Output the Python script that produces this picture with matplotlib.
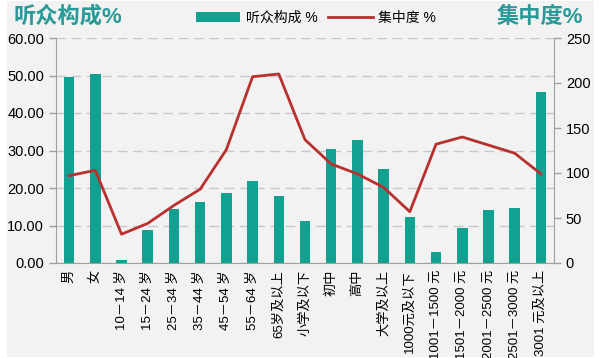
import matplotlib.pyplot as plt
from matplotlib.patches import Rectangle
import numpy as np

plt.rcParams['font.family'] = ['Liberation Sans', 'Noto Sans CJK SC', 'DejaVu Sans']

# ---------- data ----------
categories = ['男', '女', '10－14 岁', '15－24 岁', '25－34 岁', '35－44 岁', '45－54 岁',
              '55－64 岁', '65岁及以上', '小学及以下', '初中', '高中', '大学及以上',
              '1000元及以下', '1001－1500 元', '1501－2000 元', '2001－2500 元',
              '2501－3000 元', '3001 元及以上']
audience = [49.6, 50.3, 0.9, 8.9, 14.4, 16.3, 18.8, 21.9, 17.9, 11.2, 30.4, 32.8, 25.0,
            12.4, 3.0, 9.4, 14.2, 14.7, 45.5]
concentration = [97, 103, 32, 44, 64, 82, 126, 207, 210, 137, 110, 99, 84,
                 57, 132, 140, 131, 122, 99]

teal = '#12a091'
red = '#b8312f'
bg = '#f2f2f2'

fig = plt.figure(figsize=(6, 3.58), dpi=100)
fig.patches.append(Rectangle((7 / 600, 0.003), 587 / 600, 0.994, transform=fig.transFigure,
                             facecolor=bg, edgecolor='none', zorder=-10))

ax = fig.add_axes([56 / 600, 1 - 263 / 358, 498 / 600, 225 / 358])
ax.set_facecolor('none')
x = np.arange(len(categories))
ax.bar(x, audience, width=0.4, color=teal, zorder=3, label='听众构成 %')
ax.set_xlim(-0.5, len(categories) - 0.5)
ax.set_ylim(0, 60)
ax.set_yticks(np.arange(0, 61, 10))
ax.set_yticklabels([f'{v:.2f}' for v in range(0, 61, 10)], fontsize=10.5)
ax.yaxis.grid(True, linestyle=(0, (7, 4)), color='#c8c8c8', linewidth=1)
ax.set_xticks(x)
ax.set_xticklabels(categories, rotation=90, fontsize=9.5)
ax.tick_params(axis='x', length=0, pad=5)
ax.tick_params(axis='y', length=5, color='#a0a0a0', width=1)
for s in ['top', 'right']:
    ax.spines[s].set_visible(False)
for s in ['left', 'bottom']:
    ax.spines[s].set_color('#a0a0a0')

ax2 = ax.twinx()
ax2.plot(x, concentration, color=red, linewidth=2, zorder=4, label='集中度 %')
ax2.set_ylim(0, 250)
ax2.set_yticks(np.arange(0, 251, 50))
ax2.tick_params(axis='y', length=5, color='#a0a0a0', width=1, labelsize=10.5)
for s in ['top', 'left', 'bottom']:
    ax2.spines[s].set_visible(False)
ax2.spines['right'].set_color('#a0a0a0')

fig.text(14 / 600, 1 - 17 / 358, '听众构成%', color='#2a9a98', fontsize=16,
         fontweight='bold', va='center', ha='left')
fig.text(583 / 600, 1 - 17 / 358, '集中度%', color='#2a9a98', fontsize=16,
         fontweight='bold', va='center', ha='right')

h1, l1 = ax.get_legend_handles_labels()
h2, l2 = ax2.get_legend_handles_labels()
fig.legend(h1 + h2, l1 + l2, loc='center', bbox_to_anchor=(316 / 600, 1 - 18 / 358),
           ncol=2, frameon=False, fontsize=10, handlelength=3.2, handleheight=0.8,
           columnspacing=0.8, handletextpad=0.4)

fig.savefig('out.png', dpi=100)
